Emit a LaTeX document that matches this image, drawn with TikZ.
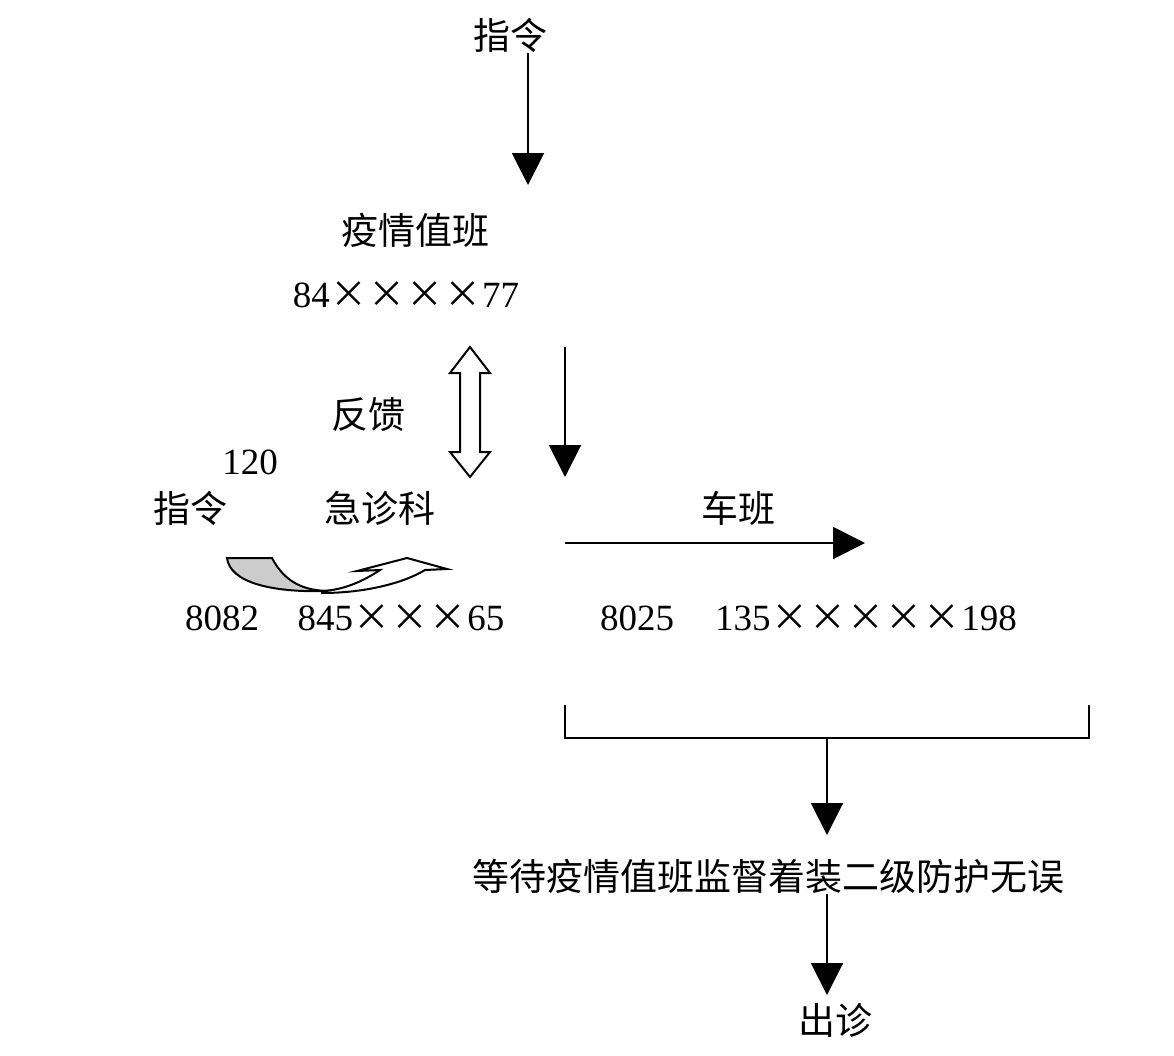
\documentclass[tikz,border=0pt]{standalone}
\usepackage{fontspec}
\setmainfont{Liberation Serif}
\newfontfamily\cjk{Noto Sans CJK SC}
\newfontfamily\cjkjp{Noto Sans CJK JP}
\usetikzlibrary{arrows.meta,positioning}
\newcommand{\xx}{\makebox[1.03em]{\cjkjp ×}}

\begin{document}
\begin{tikzpicture}[
    x=0.5pt,y=-0.5pt,
    txt/.style={inner sep=0pt,font=\fontsize{18.5}{22}\selectfont\cjk},
    num/.style={inner sep=0pt,font=\fontsize{18.5}{22}\selectfont},
    flow/.style={line width=1pt,-{Triangle[width=16pt,length=16pt]}},
    >=Latex]
  \useasboundingbox (0,0) rectangle (1174,1056);
  % texts
  \node[txt] (cmd) at (510,35) {指令};
  \node[txt] (duty) at (415,230) {疫情值班};
  \node[num] (dutytel) at (406,295) {84\xx\xx\xx\xx77};
  \node[txt] (fb) at (368,415) {反馈};
  \node[num] (n120) at (250,462) {120};
  \node[txt] (cmd2) at (190,508) {指令};
  \node[txt] (er) at (380,508) {急诊科};
  \node[num] (ertel1) at (222,618) {8082};
  \node[num] (ertel2) at (401,618) {845\xx\xx\xx65};
  \node[txt] (car) at (738,508) {车班};
  \node[num] (cartel1) at (637,618) {8025};
  \node[num] (cartel2) at (866,618) {135\xx\xx\xx\xx\xx198};
  \node[txt] (wait) at (768,876) {等待疫情值班监督着装二级防护无误};
  \node[txt] (go) at (835,1020) {出诊};
  % arrow ends
  \coordinate (down1) at (528,185);
  \coordinate (down2a) at (565,347);
  \coordinate (down2b) at (565,477);
  \coordinate (split) at (565,543);
  \coordinate (carend) at (865,543);
  \coordinate (bl) at (565,705);
  \coordinate (br) at (1089,705);
  \coordinate (join) at (827,738);
  \coordinate (down3) at (827,835);
  \coordinate (down4) at (827,995);
  \draw[flow] (cmd.south -| down1) -- (down1);
  \draw[flow] (down2a) -- (down2b);
  \draw[flow] (split) -- (carend);
  \draw[line width=1pt] (bl) -- ++(0,33) -| (br);
  \draw[flow] (join) -- (down3);
  \draw[flow] (wait.south -| down4) -- (down4);
  % feedback double arrow
  \draw[line width=1pt,fill=white] (470,347) -- (490,373) -- (480,373) -- (480,452)
    -- (490,452) -- (470,477) -- (450,452) -- (460,452) -- (460,373) -- (450,373) -- cycle;
  % curved arrow
  \draw[line width=1pt,fill=black!20] (227,558) -- (272,558)
    .. controls (285,583) and (305,591) .. (330,591)
    .. controls (270,593) and (230,582) .. cycle;
  \draw[line width=1pt,fill=white] (322,591)
    .. controls (345,590) and (365,580) .. (380,570)
    -- (357,571) -- (407,558) -- (447,569) -- (425,570)
    .. controls (400,585) and (360,593) .. (322,593) -- cycle;
\end{tikzpicture}
\end{document}
